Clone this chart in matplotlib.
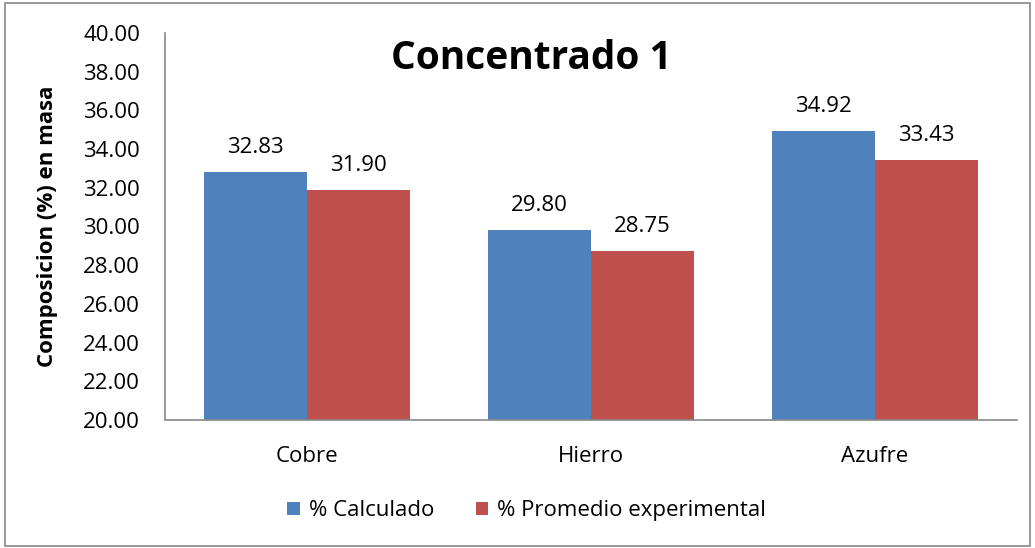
import matplotlib.pyplot as plt
import numpy as np
from matplotlib.patches import Rectangle

plt.rcParams['font.family'] = ['Open Sans', 'DejaVu Sans']

elementos = ['Cobre', 'Hierro', 'Azufre']
calculado = [32.83, 29.80, 34.92]
experimental = [31.90, 28.75, 33.43]
series = ['% Calculado', '% Promedio experimental']
colores = ['#4f81bd', '#c0504d']

fig = plt.figure(figsize=(10.35, 5.48), dpi=100)
ax = fig.add_axes([0.1594, 0.2336, 0.8232, 0.7062])

x = np.arange(len(elementos))
w = 0.363
b1 = ax.bar(x - w / 2, calculado, w, color=colores[0], label=series[0])
b2 = ax.bar(x + w / 2, experimental, w, color=colores[1], label=series[1])
for bars in (b1, b2):
    ax.bar_label(bars, labels=['%.2f' % v.get_height() for v in bars],
                 padding=10, fontsize=16)

ax.set_xlim(-0.5, 2.5)
ax.set_ylim(20, 40)
ax.set_yticks(np.arange(20, 41, 2))
ax.set_yticklabels(['%.2f' % t for t in np.arange(20, 41, 2)], fontsize=16)
ax.set_xticks(x)
ax.set_xticklabels(elementos, fontsize=16)
ax.tick_params(axis='y', length=0, pad=18)
ax.tick_params(axis='x', length=0, pad=19)
for s in ('top', 'right'):
    ax.spines[s].set_visible(False)
for s in ('left', 'bottom'):
    ax.spines[s].set_color('#888888')
    ax.spines[s].set_linewidth(1.2)

ax.set_ylabel('Composicion (%) en masa', fontsize=16, fontweight='bold')
ax.yaxis.set_label_coords(-0.1256, 0.5)
ax.text(0.43, 0.935, 'Concentrado 1', transform=ax.transAxes, ha='center', va='center',
        fontsize=28, fontweight='bold')

fig.legend(loc='center', bbox_to_anchor=(0.509, 0.068), ncol=2, frameon=False,
           fontsize=16, handlelength=0.55, handleheight=0.55, handletextpad=0.4,
           columnspacing=1.9)

fig.patches.append(Rectangle((0.005, 0.004), 0.99, 0.99, transform=fig.transFigure,
                             fill=False, edgecolor='#888888', linewidth=1.2))

fig.savefig('out.png', dpi=100)
